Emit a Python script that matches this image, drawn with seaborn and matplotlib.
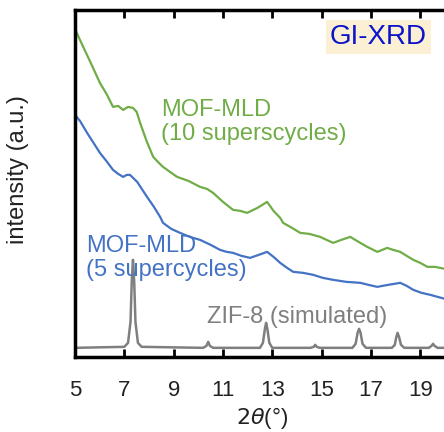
import matplotlib.pyplot as plt
import seaborn as sns

sns.set_theme(style="ticks")
plt.rcParams['font.family'] = ['Liberation Sans', 'DejaVu Sans']

# --- data (intensity in arbitrary units) ---
two_theta_10 = [5.0, 5.2, 5.6, 6.01, 6.3, 6.54, 6.75, 6.95, 7.15, 7.35, 7.5, 7.64, 7.9, 8.17,
                8.4, 8.57, 8.85, 9.14, 9.6, 10.07, 10.35, 10.6, 11.0, 11.41, 11.7, 11.98,
                12.4, 12.79, 13.05, 13.32, 13.44, 13.8, 14.13, 14.5, 14.94, 15.2, 15.47,
                15.8, 16.16, 16.5, 16.85, 17.26, 17.66, 17.9, 18.19, 18.45, 18.72, 19.0,
                19.29, 19.6, 20.0]
mld_10 = [328, 317, 296, 274, 262, 250, 251, 247, 250, 249, 245, 234, 216, 200,
          194, 190, 185, 180, 176, 170, 168, 164, 155, 147, 146, 144,
          149, 155, 146, 139, 134, 129, 124, 123, 120, 117, 114,
          117, 120, 115, 110, 105, 109, 107, 105, 101, 97, 94,
          90, 90, 88]

two_theta_5 = [5.0, 5.2, 5.49, 5.75, 6.01, 6.3, 6.54, 6.75, 6.95, 7.1, 7.23, 7.52, 7.92,
               8.2, 8.45, 8.57, 8.9, 9.26, 9.65, 10.07, 10.5, 10.88, 11.15, 11.41, 11.75,
               12.1, 12.45, 12.79, 13.05, 13.32, 13.6, 13.85, 14.25, 14.66, 15.05, 15.47,
               16.0, 16.57, 16.9, 17.26, 17.7, 18.19, 18.45, 18.72, 19.05, 19.41, 19.7, 20.0]
mld_5 = [242, 236, 224, 214, 204, 195, 187, 183, 180, 182, 182, 175, 160,
         150, 140, 134, 128, 124, 120, 117, 112, 107, 105, 104, 101,
         99, 102, 105, 100, 94, 89, 85, 84, 82, 79, 77,
         75, 74, 72, 70, 72, 74, 71, 67, 64, 62, 60, 58]

two_theta_sim = [5.0, 7.0, 7.15, 7.25, 7.3, 7.35, 7.4, 7.45, 7.55, 7.7,
                 10.2, 10.33, 10.4, 10.47, 10.6,
                 12.5, 12.62, 12.7, 12.75, 12.8, 12.88, 13.0,
                 14.55, 14.68, 14.74, 14.8, 14.93,
                 16.25, 16.38, 16.46, 16.52, 16.58, 16.66, 16.8,
                 17.85, 17.97, 18.03, 18.08, 18.14, 18.22, 18.35,
                 19.35, 19.46, 19.52, 19.58, 19.7, 20.0]
zif8_sim = [9, 10, 14, 35, 75, 97, 75, 35, 14, 10,
            9, 11, 15, 11, 9,
            9, 14, 28, 34, 28, 14, 9,
            9, 10, 12, 10, 9,
            9, 13, 24, 28, 24, 13, 9,
            9, 12, 20, 24, 20, 12, 9,
            9, 11, 13, 11, 9, 9]

x_ticks = [5, 7, 9, 11, 13, 15, 17, 19]

green = '#70ad47'
blue = '#4472c4'
gray = '#7f7f7f'

fig = plt.figure(figsize=(4.44, 4.32), dpi=100)
ax = fig.add_axes([0.169, 0.174, 0.833, 0.803])

sns.lineplot(x=two_theta_10, y=mld_10, color=green, lw=1.6, ax=ax)
sns.lineplot(x=two_theta_5, y=mld_5, color=blue, lw=1.6, ax=ax)
sns.lineplot(x=two_theta_sim, y=zif8_sim, color=gray, lw=1.8, ax=ax)

ax.set_xlim(5, 20)
ax.set_ylim(0, 347)
ax.set_xticks(x_ticks)
ax.set_yticks([])
ax.tick_params(axis='x', direction='in', length=6, width=2, top=True,
               labelsize=16, pad=17, colors='black', labelcolor='#222222')
for side in ['left', 'bottom', 'top']:
    ax.spines[side].set_linewidth(2.5)
    ax.spines[side].set_color('black')
ax.spines['right'].set_visible(False)

ax.set_xlabel(r'$2\theta$(°)', fontsize=16, color='#222222')
ax.set_ylabel('intensity (a.u.)', fontsize=17, color='#222222')
ax.xaxis.set_label_coords(0.505, -0.14)
ax.yaxis.set_label_coords(-0.125, 0.54)

ax.text(8.5, 235, 'MOF-MLD\n(10 superscycles)', color=green, fontsize=17,
        va='center', ha='left', linespacing=1.15)
ax.text(5.45, 99, 'MOF-MLD\n(5 supercycles)', color=blue, fontsize=17,
        va='center', ha='left', linespacing=1.1)
ax.text(10.35, 40, 'ZIF-8 (simulated)', color=gray, fontsize=17,
        va='center', ha='left')
ax.text(0.951, 0.922, 'GI-XRD', color='#0a14c8', fontsize=20,
        transform=ax.transAxes, ha='right', va='center',
        bbox=dict(boxstyle='square,pad=0.15', fc='#fcf0d4', ec='none'))

fig.savefig('out.png', dpi=100)
